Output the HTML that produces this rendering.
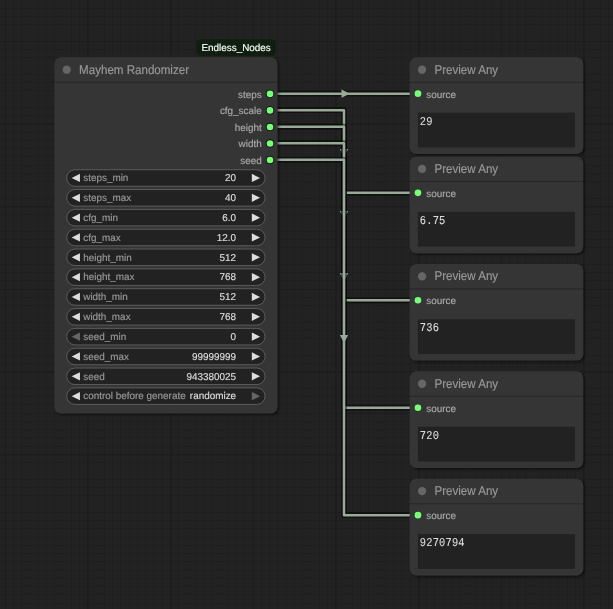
<!DOCTYPE html>
<html><head><meta charset="utf-8"><title>ComfyUI</title>
<style>html,body{margin:0;padding:0;background:#222222;overflow:hidden;width:613px;height:609px}svg{display:block;will-change:transform}text{text-rendering:geometricPrecision}</style>
</head><body>
<svg width="613" height="609" viewBox="0 0 613 609"><defs><filter id="sh" x="-10%" y="-10%" width="120%" height="120%"><feDropShadow dx="1.653" dy="1.653" stdDeviation="1.24" flood-color="#000" flood-opacity="0.5"/></filter></defs><rect width="613" height="609" fill="#222222"/><path d="M0 124h613v1h-613zM0 207h613v1h-613zM0 372h613v1h-613zM0 455h613v1h-613zM0 537h613v1h-613z" fill="rgb(31,31,31)"/><path d="M13 0h1v609h-1zM21 0h1v609h-1zM38 0h1v609h-1zM46 0h1v609h-1zM54 0h1v609h-1zM71 0h1v609h-1zM79 0h1v609h-1zM104 0h1v609h-1zM112 0h1v609h-1zM120 0h1v609h-1zM129 0h1v609h-1zM137 0h1v609h-1zM145 0h1v609h-1zM153 0h1v609h-1zM162 0h1v609h-1zM178 0h1v609h-1zM195 0h1v609h-1zM203 0h1v609h-1zM211 0h1v609h-1zM228 0h1v609h-1zM236 0h1v609h-1zM244 0h1v609h-1zM261 0h1v609h-1zM269 0h1v609h-1zM277 0h1v609h-1zM286 0h1v609h-1zM294 0h1v609h-1zM302 0h1v609h-1zM319 0h1v609h-1zM327 0h1v609h-1zM352 0h1v609h-1zM360 0h1v609h-1zM368 0h1v609h-1zM385 0h1v609h-1zM393 0h1v609h-1zM401 0h1v609h-1zM410 0h1v609h-1zM426 0h1v609h-1zM434 0h1v609h-1zM443 0h1v609h-1zM451 0h1v609h-1zM459 0h1v609h-1zM476 0h1v609h-1zM484 0h1v609h-1zM492 0h1v609h-1zM509 0h1v609h-1zM517 0h1v609h-1zM525 0h1v609h-1zM542 0h1v609h-1zM550 0h1v609h-1zM558 0h1v609h-1zM567 0h1v609h-1zM575 0h1v609h-1zM600 0h1v609h-1zM608 0h1v609h-1zM0 8h613v1h-613zM0 16h613v1h-613zM0 24h613v1h-613zM0 49h613v1h-613zM0 57h613v1h-613zM0 74h613v1h-613zM0 82h613v1h-613zM0 90h613v1h-613zM0 107h613v1h-613zM0 115h613v1h-613zM0 132h613v1h-613zM0 140h613v1h-613zM0 148h613v1h-613zM0 156h613v1h-613zM0 165h613v1h-613zM0 173h613v1h-613zM0 181h613v1h-613zM0 198h613v1h-613zM0 214h613v1h-613zM0 231h613v1h-613zM0 239h613v1h-613zM0 247h613v1h-613zM0 264h613v1h-613zM0 272h613v1h-613zM0 280h613v1h-613zM0 297h613v1h-613zM0 305h613v1h-613zM0 322h613v1h-613zM0 330h613v1h-613zM0 338h613v1h-613zM0 355h613v1h-613zM0 363h613v1h-613zM0 388h613v1h-613zM0 396h613v1h-613zM0 404h613v1h-613zM0 413h613v1h-613zM0 421h613v1h-613zM0 429h613v1h-613zM0 437h613v1h-613zM0 446h613v1h-613zM0 462h613v1h-613zM0 479h613v1h-613zM0 487h613v1h-613zM0 495h613v1h-613zM0 512h613v1h-613zM0 520h613v1h-613zM0 528h613v1h-613zM0 545h613v1h-613zM0 553h613v1h-613zM0 561h613v1h-613zM0 570h613v1h-613zM0 578h613v1h-613zM0 586h613v1h-613zM0 594h613v1h-613zM0 603h613v1h-613z" fill="rgb(30,30,30)"/><path d="M88 0h1v609h-1zM171 0h1v609h-1zM253 0h1v609h-1zM336 0h1v609h-1zM419 0h1v609h-1zM501 0h1v609h-1zM584 0h1v609h-1z" fill="rgb(29,29,29)"/><path d="M5 0h1v609h-1zM87 0h1v609h-1zM170 0h1v609h-1zM335 0h1v609h-1zM418 0h1v609h-1zM583 0h1v609h-1zM0 41h613v1h-613zM0 123h613v1h-613zM0 206h613v1h-613zM0 289h613v1h-613zM0 371h613v1h-613zM0 454h613v1h-613z" fill="rgb(28,28,28)"/><path d="M270.022 93.677L278.286 93.677L343.988 93.677L343.988 93.677L409.689 93.677L417.953 93.677" fill="none" stroke="rgba(0,0,0,0.5)" stroke-width="5.785" stroke-linejoin="round" stroke-linecap="round"/><path d="M270.022 93.677L278.286 93.677L343.988 93.677L343.988 93.677L409.689 93.677L417.953 93.677" fill="none" stroke="#9a9" stroke-width="2.479" stroke-linejoin="round" stroke-linecap="round"/><path transform="translate(343.988 93.677) rotate(0)" d="M-2.479 -4.132L5.785 0L-2.479 4.132Z" fill="#9a9"/><path d="M270.022 110.205L278.286 110.205L343.988 110.205L343.988 192.848L409.689 192.848L417.953 192.848" fill="none" stroke="rgba(0,0,0,0.5)" stroke-width="5.785" stroke-linejoin="round" stroke-linecap="round"/><path d="M270.022 110.205L278.286 110.205L343.988 110.205L343.988 192.848L409.689 192.848L417.953 192.848" fill="none" stroke="#9a9" stroke-width="2.479" stroke-linejoin="round" stroke-linecap="round"/><path transform="translate(343.988 151.527) rotate(90)" d="M-2.479 -4.132L5.785 0L-2.479 4.132Z" fill="#9a9"/><path d="M270.022 126.734L278.286 126.734L343.988 126.734L343.988 300.284L409.689 300.284L417.953 300.284" fill="none" stroke="rgba(0,0,0,0.5)" stroke-width="5.785" stroke-linejoin="round" stroke-linecap="round"/><path d="M270.022 126.734L278.286 126.734L343.988 126.734L343.988 300.284L409.689 300.284L417.953 300.284" fill="none" stroke="#9a9" stroke-width="2.479" stroke-linejoin="round" stroke-linecap="round"/><path transform="translate(343.988 213.509) rotate(90)" d="M-2.479 -4.132L5.785 0L-2.479 4.132Z" fill="#9a9"/><path d="M270.022 143.263L278.286 143.263L343.988 143.263L343.988 407.72L409.689 407.72L417.953 407.72" fill="none" stroke="rgba(0,0,0,0.5)" stroke-width="5.785" stroke-linejoin="round" stroke-linecap="round"/><path d="M270.022 143.263L278.286 143.263L343.988 143.263L343.988 407.72L409.689 407.72L417.953 407.72" fill="none" stroke="#9a9" stroke-width="2.479" stroke-linejoin="round" stroke-linecap="round"/><path transform="translate(343.988 275.491) rotate(90)" d="M-2.479 -4.132L5.785 0L-2.479 4.132Z" fill="#9a9"/><path d="M270.022 159.791L278.286 159.791L343.988 159.791L343.988 515.156L409.689 515.156L417.953 515.156" fill="none" stroke="rgba(0,0,0,0.5)" stroke-width="5.785" stroke-linejoin="round" stroke-linecap="round"/><path d="M270.022 159.791L278.286 159.791L343.988 159.791L343.988 515.156L409.689 515.156L417.953 515.156" fill="none" stroke="#9a9" stroke-width="2.479" stroke-linejoin="round" stroke-linecap="round"/><path transform="translate(343.988 337.474) rotate(90)" d="M-2.479 -4.132L5.785 0L-2.479 4.132Z" fill="#9a9"/><rect x="196.47" y="39.132" width="79.337" height="16.529" rx="4.132" fill="#0f1f0f"/><text x="201.428" y="50.95" font-family='"Liberation Sans", sans-serif' font-size="9.917" fill="#fff" stroke="#fff" stroke-width="0.15">Endless_Nodes</text><rect x="54.324" y="57.314" width="223.136" height="356.191" rx="6.611" fill="#353535" filter="url(#sh)"/><rect x="54.324" y="81.693" width="223.136" height="1.157" fill="rgba(0,0,0,0.25)"/><circle cx="66.72" cy="69.71" r="4.132" fill="#666"/><text x="0" y="0" transform="translate(79.117 73.842) scale(1 1.09)" font-family='"Liberation Sans", sans-serif' font-size="11.57" fill="#999" stroke="#999" stroke-width="0.15">Mayhem Randomizer</text><circle cx="270.022" cy="93.877" r="4.1" fill="rgba(0,0,0,0.75)"/><circle cx="270.022" cy="93.877" r="3.306" fill="#7f7"/><text x="261.758" y="97.809" text-anchor="end" font-family='"Liberation Sans", sans-serif' font-size="9.917" fill="#aaa" stroke="#aaa" stroke-width="0.15">steps</text><circle cx="270.022" cy="110.405" r="4.1" fill="rgba(0,0,0,0.75)"/><circle cx="270.022" cy="110.405" r="3.306" fill="#7f7"/><text x="261.758" y="114.337" text-anchor="end" font-family='"Liberation Sans", sans-serif' font-size="9.917" fill="#aaa" stroke="#aaa" stroke-width="0.15">cfg_scale</text><circle cx="270.022" cy="126.934" r="4.1" fill="rgba(0,0,0,0.75)"/><circle cx="270.022" cy="126.934" r="3.306" fill="#7f7"/><text x="261.758" y="130.866" text-anchor="end" font-family='"Liberation Sans", sans-serif' font-size="9.917" fill="#aaa" stroke="#aaa" stroke-width="0.15">height</text><circle cx="270.022" cy="143.463" r="4.1" fill="rgba(0,0,0,0.75)"/><circle cx="270.022" cy="143.463" r="3.306" fill="#7f7"/><text x="261.758" y="147.395" text-anchor="end" font-family='"Liberation Sans", sans-serif' font-size="9.917" fill="#aaa" stroke="#aaa" stroke-width="0.15">width</text><circle cx="270.022" cy="159.991" r="4.1" fill="rgba(0,0,0,0.75)"/><circle cx="270.022" cy="159.991" r="3.306" fill="#7f7"/><text x="261.758" y="163.923" text-anchor="end" font-family='"Liberation Sans", sans-serif' font-size="9.917" fill="#aaa" stroke="#aaa" stroke-width="0.15">seed</text><rect x="66.72" y="169.708" width="198.343" height="16.529" rx="8.264" fill="#222" stroke="#666" stroke-width="0.826"/><path d="M79.943 173.84L71.679 177.973L79.943 182.105Z" fill="#ddd"/><path d="M251.841 173.84L260.105 177.973L251.841 182.105Z" fill="#ddd"/><text x="83.249" y="181.278" font-family='"Liberation Sans", sans-serif' font-size="9.917" fill="#999" stroke="#999" stroke-width="0.15">steps_min</text><text x="236.138" y="181.278" text-anchor="end" font-family='"Liberation Sans", sans-serif' font-size="9.917" fill="#ddd" stroke="#ddd" stroke-width="0.15">20</text><rect x="66.72" y="189.543" width="198.343" height="16.529" rx="8.264" fill="#222" stroke="#666" stroke-width="0.826"/><path d="M79.943 193.675L71.679 197.807L79.943 201.939Z" fill="#ddd"/><path d="M251.841 193.675L260.105 197.807L251.841 201.939Z" fill="#ddd"/><text x="83.249" y="201.113" font-family='"Liberation Sans", sans-serif' font-size="9.917" fill="#999" stroke="#999" stroke-width="0.15">steps_max</text><text x="236.138" y="201.113" text-anchor="end" font-family='"Liberation Sans", sans-serif' font-size="9.917" fill="#ddd" stroke="#ddd" stroke-width="0.15">40</text><rect x="66.72" y="209.377" width="198.343" height="16.529" rx="8.264" fill="#222" stroke="#666" stroke-width="0.826"/><path d="M79.943 213.509L71.679 217.641L79.943 221.773Z" fill="#ddd"/><path d="M251.841 213.509L260.105 217.641L251.841 221.773Z" fill="#ddd"/><text x="83.249" y="220.947" font-family='"Liberation Sans", sans-serif' font-size="9.917" fill="#999" stroke="#999" stroke-width="0.15">cfg_min</text><text x="236.138" y="220.947" text-anchor="end" font-family='"Liberation Sans", sans-serif' font-size="9.917" fill="#ddd" stroke="#ddd" stroke-width="0.15">6.0</text><rect x="66.72" y="229.211" width="198.343" height="16.529" rx="8.264" fill="#222" stroke="#666" stroke-width="0.826"/><path d="M79.943 233.343L71.679 237.476L79.943 241.608Z" fill="#ddd"/><path d="M251.841 233.343L260.105 237.476L251.841 241.608Z" fill="#ddd"/><text x="83.249" y="240.781" font-family='"Liberation Sans", sans-serif' font-size="9.917" fill="#999" stroke="#999" stroke-width="0.15">cfg_max</text><text x="236.138" y="240.781" text-anchor="end" font-family='"Liberation Sans", sans-serif' font-size="9.917" fill="#ddd" stroke="#ddd" stroke-width="0.15">12.0</text><rect x="66.72" y="249.046" width="198.343" height="16.529" rx="8.264" fill="#222" stroke="#666" stroke-width="0.826"/><path d="M79.943 253.178L71.679 257.31L79.943 261.442Z" fill="#ddd"/><path d="M251.841 253.178L260.105 257.31L251.841 261.442Z" fill="#ddd"/><text x="83.249" y="260.616" font-family='"Liberation Sans", sans-serif' font-size="9.917" fill="#999" stroke="#999" stroke-width="0.15">height_min</text><text x="236.138" y="260.616" text-anchor="end" font-family='"Liberation Sans", sans-serif' font-size="9.917" fill="#ddd" stroke="#ddd" stroke-width="0.15">512</text><rect x="66.72" y="268.88" width="198.343" height="16.529" rx="8.264" fill="#222" stroke="#666" stroke-width="0.826"/><path d="M79.943 273.012L71.679 277.144L79.943 281.276Z" fill="#ddd"/><path d="M251.841 273.012L260.105 277.144L251.841 281.276Z" fill="#ddd"/><text x="83.249" y="280.45" font-family='"Liberation Sans", sans-serif' font-size="9.917" fill="#999" stroke="#999" stroke-width="0.15">height_max</text><text x="236.138" y="280.45" text-anchor="end" font-family='"Liberation Sans", sans-serif' font-size="9.917" fill="#ddd" stroke="#ddd" stroke-width="0.15">768</text><rect x="66.72" y="288.714" width="198.343" height="16.529" rx="8.264" fill="#222" stroke="#666" stroke-width="0.826"/><path d="M79.943 292.846L71.679 296.978L79.943 301.111Z" fill="#ddd"/><path d="M251.841 292.846L260.105 296.978L251.841 301.111Z" fill="#ddd"/><text x="83.249" y="300.284" font-family='"Liberation Sans", sans-serif' font-size="9.917" fill="#999" stroke="#999" stroke-width="0.15">width_min</text><text x="236.138" y="300.284" text-anchor="end" font-family='"Liberation Sans", sans-serif' font-size="9.917" fill="#ddd" stroke="#ddd" stroke-width="0.15">512</text><rect x="66.72" y="308.549" width="198.343" height="16.529" rx="8.264" fill="#222" stroke="#666" stroke-width="0.826"/><path d="M79.943 312.681L71.679 316.813L79.943 320.945Z" fill="#ddd"/><path d="M251.841 312.681L260.105 316.813L251.841 320.945Z" fill="#ddd"/><text x="83.249" y="320.119" font-family='"Liberation Sans", sans-serif' font-size="9.917" fill="#999" stroke="#999" stroke-width="0.15">width_max</text><text x="236.138" y="320.119" text-anchor="end" font-family='"Liberation Sans", sans-serif' font-size="9.917" fill="#ddd" stroke="#ddd" stroke-width="0.15">768</text><rect x="66.72" y="328.383" width="198.343" height="16.529" rx="8.264" fill="#222" stroke="#666" stroke-width="0.826"/><path d="M79.943 332.515L71.679 336.647L79.943 340.779Z" fill="#666"/><path d="M251.841 332.515L260.105 336.647L251.841 340.779Z" fill="#ddd"/><text x="83.249" y="339.953" font-family='"Liberation Sans", sans-serif' font-size="9.917" fill="#999" stroke="#999" stroke-width="0.15">seed_min</text><text x="236.138" y="339.953" text-anchor="end" font-family='"Liberation Sans", sans-serif' font-size="9.917" fill="#ddd" stroke="#ddd" stroke-width="0.15">0</text><rect x="66.72" y="348.217" width="198.343" height="16.529" rx="8.264" fill="#222" stroke="#666" stroke-width="0.826"/><path d="M79.943 352.349L71.679 356.481L79.943 360.614Z" fill="#ddd"/><path d="M251.841 352.349L260.105 356.481L251.841 360.614Z" fill="#ddd"/><text x="83.249" y="359.787" font-family='"Liberation Sans", sans-serif' font-size="9.917" fill="#999" stroke="#999" stroke-width="0.15">seed_max</text><text x="236.138" y="359.787" text-anchor="end" font-family='"Liberation Sans", sans-serif' font-size="9.917" fill="#ddd" stroke="#ddd" stroke-width="0.15">99999999</text><rect x="66.72" y="368.051" width="198.343" height="16.529" rx="8.264" fill="#222" stroke="#666" stroke-width="0.826"/><path d="M79.943 372.184L71.679 376.316L79.943 380.448Z" fill="#ddd"/><path d="M251.841 372.184L260.105 376.316L251.841 380.448Z" fill="#ddd"/><text x="83.249" y="379.622" font-family='"Liberation Sans", sans-serif' font-size="9.917" fill="#999" stroke="#999" stroke-width="0.15">seed</text><text x="236.138" y="379.622" text-anchor="end" font-family='"Liberation Sans", sans-serif' font-size="9.917" fill="#ddd" stroke="#ddd" stroke-width="0.15">943380025</text><rect x="66.72" y="387.886" width="198.343" height="16.529" rx="8.264" fill="#222" stroke="#666" stroke-width="0.826"/><path d="M79.943 392.018L71.679 396.15L79.943 400.282Z" fill="#ddd"/><path d="M251.841 392.018L260.105 396.15L251.841 400.282Z" fill="#666"/><text x="83.249" y="399.456" font-family='"Liberation Sans", sans-serif' font-size="9.917" fill="#999" stroke="#999" stroke-width="0.15">control before generate</text><text x="236.138" y="399.456" text-anchor="end" font-family='"Liberation Sans", sans-serif' font-size="9.917" fill="#ddd" stroke="#ddd" stroke-width="0.15">randomize</text><rect x="409.689" y="57.314" width="173.55" height="96.692" rx="6.611" fill="#353535" filter="url(#sh)"/><rect x="409.689" y="81.693" width="173.55" height="1.157" fill="rgba(0,0,0,0.25)"/><circle cx="422.085" cy="69.71" r="4.132" fill="#666"/><text x="0" y="0" transform="translate(434.482 73.842) scale(1 1.09)" font-family='"Liberation Sans", sans-serif' font-size="11.57" fill="#999" stroke="#999" stroke-width="0.15">Preview Any</text><circle cx="417.953" cy="93.677" r="3.306" fill="#7f7"/><text x="426.217" y="97.809" font-family='"Liberation Sans", sans-serif' font-size="9.917" fill="#aaa" stroke="#aaa" stroke-width="0.15">source</text><rect x="417.953" y="112.685" width="157.022" height="34.71" fill="#222"/><text x="0" y="0" transform="translate(419.853 124.685) scale(1 1.16)" font-family='"Liberation Mono", monospace' font-size="10.4" letter-spacing="0.17" fill="#ddd" stroke="#ddd" stroke-width="0.1">29</text><rect x="409.689" y="156.485" width="173.55" height="96.692" rx="6.611" fill="#353535" filter="url(#sh)"/><rect x="409.689" y="180.865" width="173.55" height="1.157" fill="rgba(0,0,0,0.25)"/><circle cx="422.085" cy="168.882" r="4.132" fill="#666"/><text x="0" y="0" transform="translate(434.482 173.014) scale(1 1.09)" font-family='"Liberation Sans", sans-serif' font-size="11.57" fill="#999" stroke="#999" stroke-width="0.15">Preview Any</text><circle cx="417.953" cy="192.848" r="3.306" fill="#7f7"/><text x="426.217" y="196.98" font-family='"Liberation Sans", sans-serif' font-size="9.917" fill="#aaa" stroke="#aaa" stroke-width="0.15">source</text><rect x="417.953" y="211.856" width="157.022" height="34.71" fill="#222"/><text x="0" y="0" transform="translate(419.853 223.856) scale(1 1.16)" font-family='"Liberation Mono", monospace' font-size="10.4" letter-spacing="0.17" fill="#ddd" stroke="#ddd" stroke-width="0.1">6.75</text><rect x="409.689" y="263.921" width="173.55" height="96.692" rx="6.611" fill="#353535" filter="url(#sh)"/><rect x="409.689" y="288.301" width="173.55" height="1.157" fill="rgba(0,0,0,0.25)"/><circle cx="422.085" cy="276.318" r="4.132" fill="#666"/><text x="0" y="0" transform="translate(434.482 280.45) scale(1 1.09)" font-family='"Liberation Sans", sans-serif' font-size="11.57" fill="#999" stroke="#999" stroke-width="0.15">Preview Any</text><circle cx="417.953" cy="300.284" r="3.306" fill="#7f7"/><text x="426.217" y="304.416" font-family='"Liberation Sans", sans-serif' font-size="9.917" fill="#aaa" stroke="#aaa" stroke-width="0.15">source</text><rect x="417.953" y="319.292" width="157.022" height="34.71" fill="#222"/><text x="0" y="0" transform="translate(419.853 331.292) scale(1 1.16)" font-family='"Liberation Mono", monospace' font-size="10.4" letter-spacing="0.17" fill="#ddd" stroke="#ddd" stroke-width="0.1">736</text><rect x="409.689" y="371.357" width="173.55" height="96.692" rx="6.611" fill="#353535" filter="url(#sh)"/><rect x="409.689" y="395.737" width="173.55" height="1.157" fill="rgba(0,0,0,0.25)"/><circle cx="422.085" cy="383.754" r="4.132" fill="#666"/><text x="0" y="0" transform="translate(434.482 387.886) scale(1 1.09)" font-family='"Liberation Sans", sans-serif' font-size="11.57" fill="#999" stroke="#999" stroke-width="0.15">Preview Any</text><circle cx="417.953" cy="407.72" r="3.306" fill="#7f7"/><text x="426.217" y="411.852" font-family='"Liberation Sans", sans-serif' font-size="9.917" fill="#aaa" stroke="#aaa" stroke-width="0.15">source</text><rect x="417.953" y="426.728" width="157.022" height="34.71" fill="#222"/><text x="0" y="0" transform="translate(419.853 438.728) scale(1 1.16)" font-family='"Liberation Mono", monospace' font-size="10.4" letter-spacing="0.17" fill="#ddd" stroke="#ddd" stroke-width="0.1">720</text><rect x="409.689" y="478.793" width="173.55" height="96.692" rx="6.611" fill="#353535" filter="url(#sh)"/><rect x="409.689" y="503.173" width="173.55" height="1.157" fill="rgba(0,0,0,0.25)"/><circle cx="422.085" cy="491.19" r="4.132" fill="#666"/><text x="0" y="0" transform="translate(434.482 495.322) scale(1 1.09)" font-family='"Liberation Sans", sans-serif' font-size="11.57" fill="#999" stroke="#999" stroke-width="0.15">Preview Any</text><circle cx="417.953" cy="515.156" r="3.306" fill="#7f7"/><text x="426.217" y="519.288" font-family='"Liberation Sans", sans-serif' font-size="9.917" fill="#aaa" stroke="#aaa" stroke-width="0.15">source</text><rect x="417.953" y="534.164" width="157.022" height="34.71" fill="#222"/><text x="0" y="0" transform="translate(419.853 546.164) scale(1 1.16)" font-family='"Liberation Mono", monospace' font-size="10.4" letter-spacing="0.17" fill="#ddd" stroke="#ddd" stroke-width="0.1">9270794</text></svg>
</body></html>
